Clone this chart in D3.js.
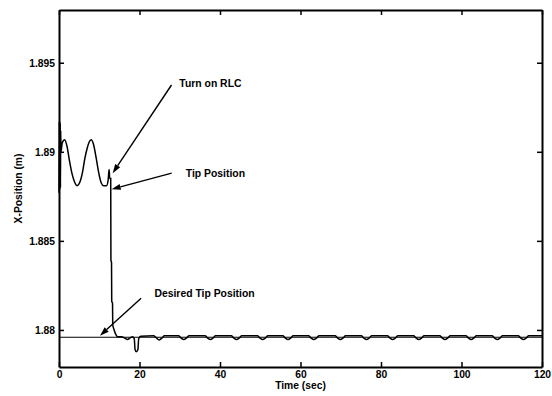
<!DOCTYPE html>
<html><head><meta charset="utf-8">
<script src="https://cdn.jsdelivr.net/npm/d3@7"></script>
<style>
body{margin:0;background:#fff;}
text{font-family:Arial,"Liberation Sans",sans-serif;font-weight:bold;}
</style></head>
<body><svg id="c" width="552" height="396"></svg>
<script>
// ---- data ----
const xTicks = [0, 20, 40, 60, 80, 100, 120];
const yTicks = [1.88, 1.885, 1.89, 1.895];
const yTickLabels = ["1.88", "1.885", "1.89", "1.895"];
const desiredTip = 1.87959;

const tipTime = [
  0, 0.06, 0.12, 0.18, 0.24, 0.3, 0.36, 0.42, 0.5, 0.8, 1.4, 2.0, 2.6, 3.2, 3.8, 4.5, 5.2, 5.8, 6.4, 7.0, 7.5, 8.0, 8.6, 9.2, 9.8, 10.5, 11.1, 11.8, 12.2, 12.45, 12.6, 12.85, 12.9, 13.05, 13.1, 13.3, 13.35, 13.7, 14.1, 14.6, 15.5, 16.3, 17.0, 17.7, 18.3, 18.7, 18.9, 19.2, 19.6, 19.8, 20.3,
  23.5, 24.2, 24.9, 25.6, 26.2,
  29.7, 30.3, 31.0, 31.7, 32.3,
  36.3, 36.9, 37.6, 38.3, 38.9,
  42.8, 43.4, 44.1, 44.8, 45.4,
  49.3, 49.9, 50.6, 51.3, 51.9,
  55.6, 56.2, 56.9, 57.6, 58.2,
  62.0, 62.6, 63.3, 64.0, 64.6,
  68.6, 69.2, 69.9, 70.6, 71.2,
  75.1, 75.7, 76.4, 77.1, 77.7,
  81.6, 82.2, 82.9, 83.6, 84.2,
  88.1, 88.7, 89.4, 90.1, 90.7,
  94.6, 95.2, 95.9, 96.6, 97.2,
  101.1, 101.7, 102.4, 103.1, 103.7,
  107.6, 108.2, 108.9, 109.6, 110.2,
  114.1, 114.7, 115.4, 116.1, 116.7,
  120
];
const tipPos = [
  1.8877, 1.8917, 1.8879, 1.8917, 1.8879, 1.8916, 1.8880, 1.8912, 1.8900, 1.8905, 1.89068, 1.8903, 1.8895, 1.8888, 1.88835, 1.8881, 1.8883, 1.8888, 1.8896, 1.8902, 1.89055, 1.89068, 1.8904, 1.8897, 1.8889, 1.88825, 1.8881, 1.8881, 1.8884, 1.8890, 1.8885, 1.8885, 1.8839, 1.8838, 1.8816, 1.8815, 1.8803, 1.8800, 1.87975, 1.87962, 1.87962, 1.87955, 1.87946, 1.87955, 1.87962, 1.8795, 1.8789, 1.87878, 1.8789, 1.8795, 1.87965,
  1.87967, 1.87955, 1.87944, 1.87955, 1.87967,
  1.87967, 1.87955, 1.87946, 1.87955, 1.87967,
  1.87967, 1.87955, 1.87946, 1.87955, 1.87967,
  1.87967, 1.87955, 1.87946, 1.87955, 1.87967,
  1.87967, 1.87955, 1.87946, 1.87955, 1.87967,
  1.87967, 1.87955, 1.87946, 1.87955, 1.87967,
  1.87967, 1.87955, 1.87946, 1.87955, 1.87967,
  1.87967, 1.87955, 1.87946, 1.87955, 1.87967,
  1.87967, 1.87955, 1.87946, 1.87955, 1.87967,
  1.87967, 1.87955, 1.87946, 1.87955, 1.87967,
  1.87967, 1.87955, 1.87946, 1.87955, 1.87967,
  1.87967, 1.87955, 1.87946, 1.87955, 1.87967,
  1.87967, 1.87955, 1.87946, 1.87955, 1.87967,
  1.87967, 1.87955, 1.87946, 1.87955, 1.87967,
  1.87967, 1.87955, 1.87946, 1.87955, 1.87967,
  1.87967
];

// annotations in data coordinates
const annoText = ["Turn on RLC", "Tip Position", "Desired Tip Position"];
const annoTextT = [29.9, 31.5, 23.7];
const annoTextV = [1.89365, 1.88861, 1.88184];
const annoFromT = [27.95, 28.0, 20.4];
const annoFromV = [1.89375, 1.8888, 1.88178];
const annoToT = [13.34, 13.09, 10.19];
const annoToV = [1.8888, 1.8879, 1.87968];

// ---- layout ----
const L = 59, R = 542, T = 10, B = 367;
const svg = d3.select("#c");
const x = d3.scaleLinear().domain([0, 120]).range([L, R]);
const y = d3.scaleLinear().domain([1.87792, 1.89796]).range([B, T]);

// desired tip line
svg.append("line").attr("x1", x(0)).attr("x2", x(120))
  .attr("y1", y(desiredTip)).attr("y2", y(desiredTip))
  .attr("stroke", "#000").attr("stroke-width", 1.1);

// tip curve
const pts = tipTime.map((t, i) => [t, tipPos[i]]);
svg.append("path").datum(pts)
  .attr("fill", "none").attr("stroke", "#000").attr("stroke-width", 1.5)
  .attr("d", d3.line().x(d => x(d[0])).y(d => y(d[1])).curve(d3.curveMonotoneX));

// axes
const fs = "10.3px";
const gx = svg.append("g").attr("transform", `translate(0,${B})`)
  .call(d3.axisBottom(x).tickValues(xTicks).tickSizeInner(-5).tickSizeOuter(0).tickPadding(4));
const gy = svg.append("g").attr("transform", `translate(${L},0)`)
  .call(d3.axisLeft(y).tickValues(yTicks).tickFormat((d, i) => yTickLabels[i]).tickSizeInner(-5).tickSizeOuter(0).tickPadding(4));
const gt = svg.append("g").attr("transform", `translate(0,${T})`)
  .call(d3.axisTop(x).tickValues(xTicks).tickFormat("").tickSizeInner(-5).tickSizeOuter(0));
const gr = svg.append("g").attr("transform", `translate(${R},0)`)
  .call(d3.axisRight(y).tickValues(yTicks).tickFormat("").tickSizeInner(-5).tickSizeOuter(0));
[gx, gy, gt, gr].forEach(g => {
  g.selectAll("path.domain").attr("stroke", "#000").attr("stroke-width", 2);
  g.selectAll(".tick line").attr("stroke", "#000").attr("stroke-width", 1.5);
  g.selectAll("text").attr("fill", "#000").style("font-size", fs)
    .style("font-family", 'Arial,"Liberation Sans",sans-serif').style("font-weight", "bold");
});

// axis titles
svg.append("text").attr("x", (L + R) / 2).attr("y", 389).attr("text-anchor", "middle")
  .style("font-size", fs).text("Time (sec)");
svg.append("text").attr("transform", `translate(22,${(T + B) / 2}) rotate(-90)`)
  .attr("text-anchor", "middle").style("font-size", fs).text("X-Position (m)");

// annotations
annoText.forEach((s, i) => {
  svg.append("text").attr("x", x(annoTextT[i])).attr("y", y(annoTextV[i]))
    .style("font-size", "10.4px").text(s);
  const x1 = x(annoFromT[i]), y1 = y(annoFromV[i]), x2 = x(annoToT[i]), y2 = y(annoToV[i]);
  const ang = Math.atan2(y2 - y1, x2 - x1), len = 9, w = 3;
  const bx = x2 - len * Math.cos(ang), by = y2 - len * Math.sin(ang);
  svg.append("line").attr("x1", x1).attr("y1", y1).attr("x2", bx).attr("y2", by)
    .attr("stroke", "#000").attr("stroke-width", 1.4);
  const px = -Math.sin(ang) * w, py = Math.cos(ang) * w;
  svg.append("path")
    .attr("d", `M${x2},${y2}L${bx + px},${by + py}L${bx - px},${by - py}Z`)
    .attr("fill", "#000");
});
</script></body></html>
